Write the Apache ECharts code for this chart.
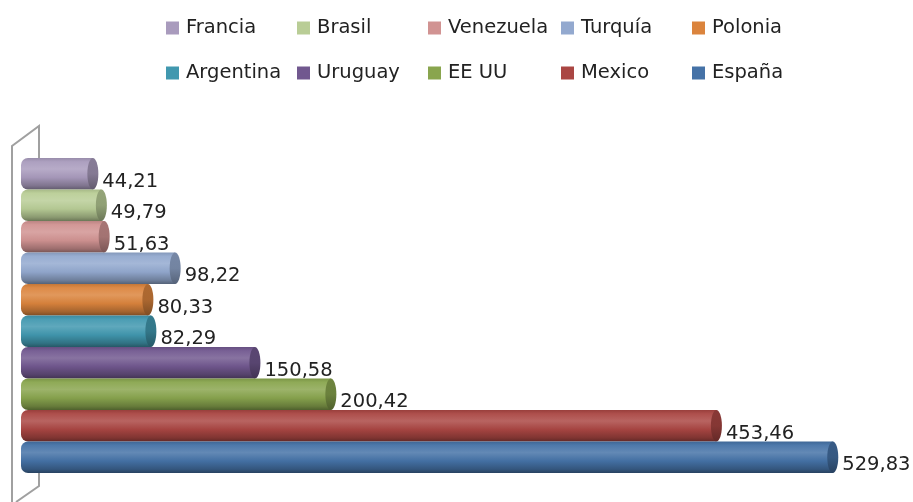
<!DOCTYPE html>
<html><head><meta charset="utf-8">
<script src="https://cdn.jsdelivr.net/npm/echarts@6/dist/echarts.min.js"></script>
<style>html,body{margin:0;padding:0;background:#fff}#c{width:913px;height:502px}</style></head>
<body><div id="c"></div>
<script>
const categories = ['Francia','Brasil','Venezuela','Turquía','Polonia','Argentina','Uruguay','EE UU','Mexico','España'];
const values = [44.21,49.79,51.63,98.22,80.33,82.29,150.58,200.42,453.46,529.83];
const colors = ['#A99BBD','#B9CD96','#D19392','#93A9CF','#DB843D','#4198AF','#71588F','#89A54E','#AA4643','#4572A7'];
const legendLeft = [166,297,428,561,692];
const legendTop = [18,63];

function mix(hex, target, t){
  const n = parseInt(hex.slice(1),16);
  const c = [n>>16&255, n>>8&255, n&255].map(v=>Math.round(v+(target-v)*t));
  return 'rgb('+c.join(',')+')';
}
function bodyGrad(col){
  return new echarts.graphic.LinearGradient(0,0,0,1,[
    {offset:0, color:mix(col,0,0.1)},
    {offset:0.12, color:mix(col,255,0.05)},
    {offset:0.35, color:mix(col,255,0.16)},
    {offset:0.62, color:mix(col,0,0.03)},
    {offset:0.88, color:mix(col,0,0.25)},
    {offset:1, color:mix(col,0,0.42)}
  ]);
}
function capGrad(col){
  return new echarts.graphic.LinearGradient(0,0,0,1,[
    {offset:0, color:mix(col,0,0.2)},
    {offset:0.5, color:mix(col,0,0.22)},
    {offset:1, color:mix(col,0,0.42)}
  ]);
}
const capW = 11, startOffset = 10, labelDx = 4, labelDy = 8;
function renderBar(col){
  return function(params, api){
    const v = api.value(0), cat = api.value(1);
    const end = api.coord([v,cat]), zero = api.coord([0,cat]);
    const h = api.size([0,1])[1];
    const x0 = zero[0]-startOffset, x1 = end[0], y = end[1]-h/2;
    return {type:'group',children:[
      {type:'rect',shape:{x:x0,y:y,width:x1-x0-capW/2,height:h,r:[7,0,0,7]},style:{fill:bodyGrad(col)}},
      {type:'ellipse',shape:{cx:x1-capW/2,cy:end[1],rx:capW/2,ry:h/2},style:{fill:capGrad(col)}},
      {type:'text',style:{x:x1+labelDx,y:end[1]+labelDy,text:v.toFixed(2).replace('.',','),fill:'#222',
        font:'19.5px "DejaVu Sans"',textAlign:'left',textVerticalAlign:'middle'}}
    ]};
  };
}
const chart = echarts.init(document.getElementById('c'),null,{renderer:'canvas'});
chart.setOption({
  animation:false,
  backgroundColor:'#fff',
  legend:categories.map((name,i)=>({
    orient:'horizontal',icon:'rect',itemWidth:13,itemHeight:13,selectedMode:false,padding:0,
    left:legendLeft[i%5],top:legendTop[Math.floor(i/5)],data:[name],
    textStyle:{fontFamily:'DejaVu Sans',fontSize:19.5,color:'#222',padding:[0,0,0,2]}
  })),
  grid:{left:31,right:44,top:158,bottom:29},
  xAxis:{type:'value',min:0,max:550,show:false},
  yAxis:{type:'category',data:categories,inverse:true,show:false},
  graphic:[{type:'polyline',silent:true,z:-1,shape:{points:[[12,502],[12,146],[39,126],[39,160]]},style:{stroke:'#a0a0a0',lineWidth:2,fill:null}},
           {type:'polyline',silent:true,z:-1,shape:{points:[[39,470],[39,486],[16,502]]},style:{stroke:'#a0a0a0',lineWidth:2,fill:null}}],
  series:categories.map((name,i)=>({
    type:'custom',name:name,coordinateSystem:'cartesian2d',
    itemStyle:{color:colors[i]},
    encode:{x:0,y:1},
    data:[[values[i],i]],
    renderItem:renderBar(colors[i]),
    z:10+i
  }))
});
</script></body></html>
